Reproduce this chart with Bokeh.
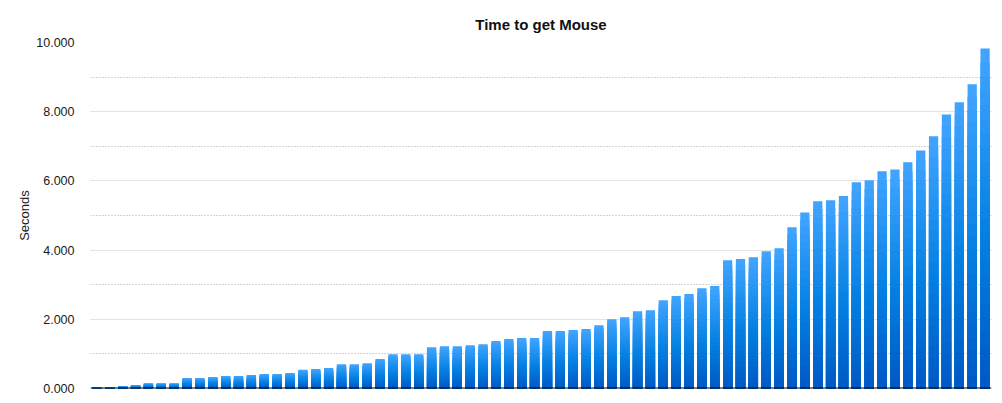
from bokeh.plotting import figure
from bokeh.models import ColumnDataSource, SingleIntervalTicker, NumeralTickFormatter, Span, Range1d
from bokeh.embed import file_html
from bokeh.resources import INLINE

# ---- data ----
runs = list(range(1, 71))
seconds = [0.04, 0.04, 0.07, 0.10, 0.15, 0.15, 0.15, 0.30, 0.30, 0.33,
           0.36, 0.36, 0.39, 0.42, 0.42, 0.45, 0.54, 0.56, 0.59, 0.70,
           0.70, 0.73, 0.85, 0.99, 0.99, 0.99, 1.19, 1.22, 1.22, 1.25,
           1.28, 1.37, 1.43, 1.46, 1.46, 1.66, 1.66, 1.69, 1.72, 1.83,
           2.00, 2.06, 2.23, 2.26, 2.55, 2.67, 2.73, 2.90, 2.96, 3.71,
           3.74, 3.79, 3.97, 4.05, 4.66, 5.09, 5.41, 5.44, 5.56, 5.96,
           6.02, 6.28, 6.33, 6.54, 6.88, 7.29, 7.92, 8.27, 8.79, 9.83]
title_text = "Time to get Mouse"
y_label = "Seconds"

# gradient stops (fraction from bottom -> rgb)
stops = [(0.0, (0x00, 0x58, 0xc4)), (0.45, (0x04, 0x80, 0xe2)), (1.0, (0x42, 0xa5, 0xff))]

def grad(f):
    for (f0, c0), (f1, c1) in zip(stops[:-1], stops[1:]):
        if f0 <= f <= f1:
            t = (f - f0) / (f1 - f0)
            return "#%02x%02x%02x" % tuple(int(round(a + (b - a) * t)) for a, b in zip(c0, c1))
    return "#%02x%02x%02x" % stops[-1][1]

FONT = "Liberation Sans"

p = figure(width=1002, height=403, output_backend="svg", toolbar_location=None,
           x_range=Range1d(0, 70), y_range=Range1d(0, 10),
           min_border_left=90, min_border_right=11, min_border_top=42, min_border_bottom=15,
           title=title_text)
p.outline_line_color = None
p.background_fill_color = "white"
p.border_fill_color = "white"

p.title.align = "center"
p.title.text_font = FONT
p.title.text_font_size = "15px"
p.title.text_font_style = "bold"
p.title.text_color = "#111111"
p.title.standoff = 20

# gradient bars: stacked shrinking layers, drawn from full height down
N = 24
xs = [r - 0.5 for r in runs]
for k in range(N):
    top_frac = (N - k) / N
    center = (N - k - 0.5) / N
    src = ColumnDataSource(dict(x=xs, top=[v * top_frac for v in seconds]))
    p.vbar(x="x", top="top", bottom=0, width=0.72, source=src,
           fill_color=grad(center), line_color=None)

# axes
p.xaxis.visible = False
yax = p.yaxis[0]
yax.ticker = SingleIntervalTicker(interval=2, num_minor_ticks=2)
yax.formatter = NumeralTickFormatter(format="0.000")
yax.axis_line_color = None
yax.major_tick_line_color = None
yax.minor_tick_line_color = None
yax.major_tick_out = 0
yax.major_tick_in = 0
yax.major_label_standoff = 12
yax.major_label_text_font = FONT
yax.major_label_text_font_size = "12.5px"
yax.major_label_text_color = "#1a1a1a"
yax.axis_label = y_label
yax.axis_label_text_font = FONT
yax.axis_label_text_font_size = "13px"
yax.axis_label_text_font_style = "normal"
yax.axis_label_text_color = "#1a1a1a"
yax.axis_label_standoff = 1

p.xgrid.visible = False
p.ygrid.grid_line_color = "#e4e4e4"
p.ygrid.grid_line_width = 1
p.ygrid.minor_grid_line_color = "#aaaaaa"
p.ygrid.minor_grid_line_dash = "1 2"
p.ygrid.minor_grid_line_width = 1

p.add_layout(Span(location=0, dimension="width", line_color="black", line_width=2))

open("out.html", "w").write(file_html(p, INLINE))
